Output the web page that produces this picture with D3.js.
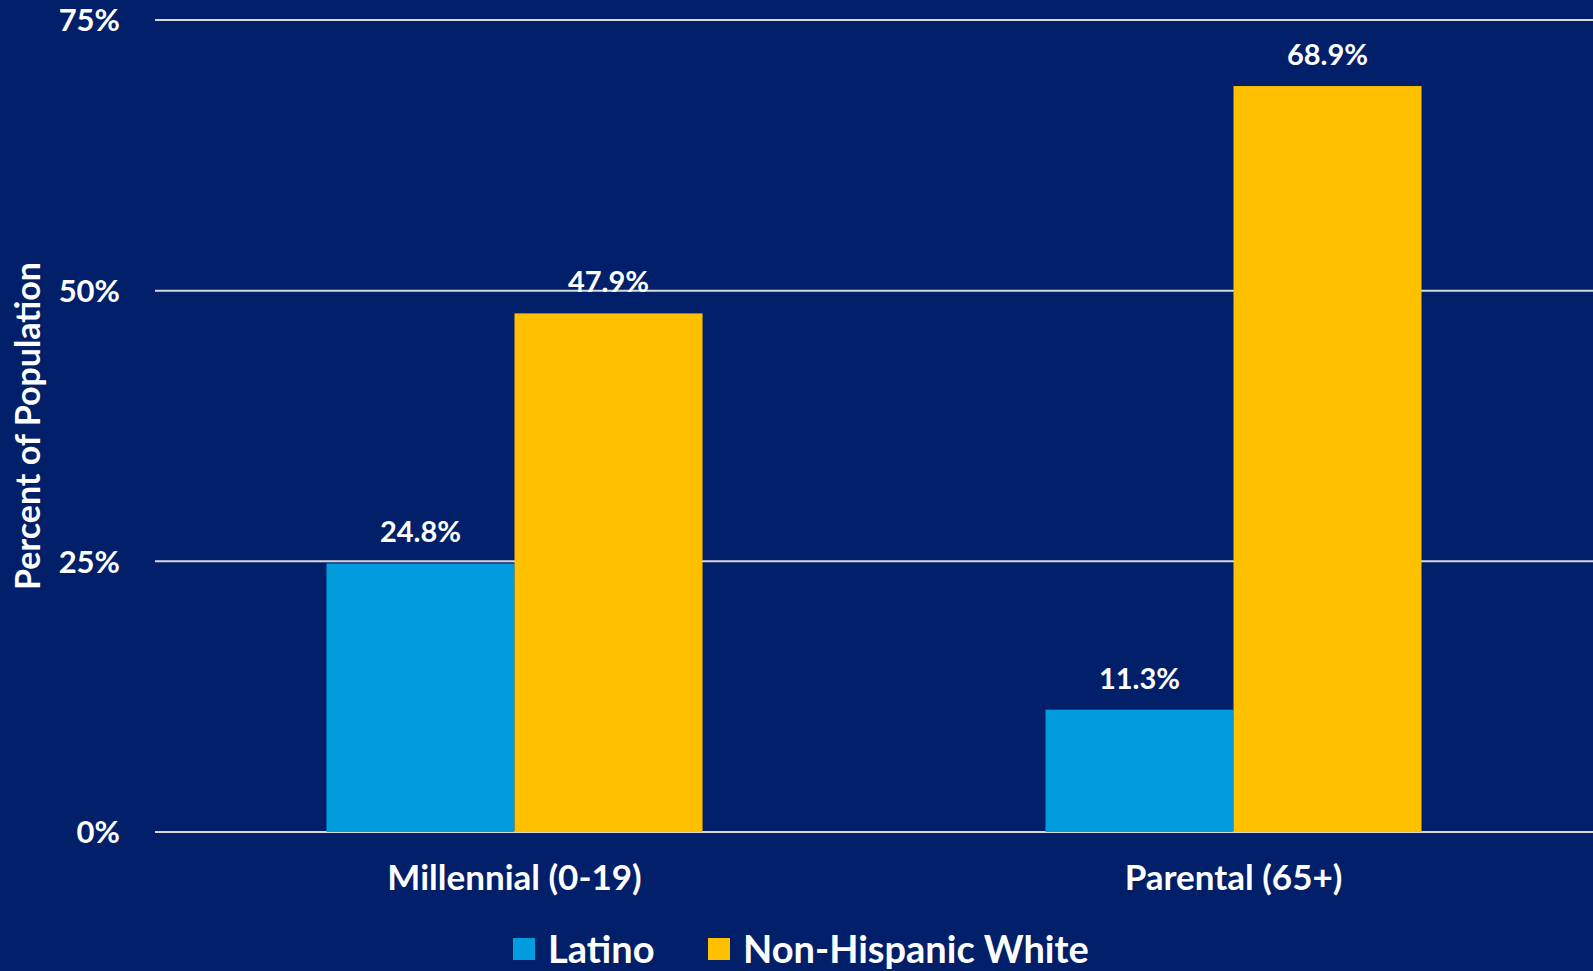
<!DOCTYPE html>
<meta charset="utf-8">
<script src="https://d3js.org/d3.v7.min.js"></script>
<style>
  body { margin: 0; background: #021f6a; }
  text { font-family: Lato, "Open Sans", sans-serif; font-weight: bold; fill: #ffffff; }
</style>
<div id="chart"></div>
<script>

    // data
    var categories = ["Millennial (0-19)", "Parental (65+)"];
    var seriesNames = ["Latino", "Non-Hispanic White"];
    var latino = [24.8, 11.3];
    var nonHispanicWhite = [47.9, 68.9];
    var yTicks = [0, 25, 50, 75];
    var colors = ["#009cde", "#ffc000"];

    var W = 1593, H = 971;
    var margin = {top: 20, right: 0, bottom: 139, left: 155};

    var svg = d3.select("#chart")
        .append("svg")
        .attr("width", W)
        .attr("height", H)
        .style("display", "block");

    svg.append("rect").attr("width", W).attr("height", H).style("fill", "#021f6a");

    var rows = categories.map(function(c, i) {
        return {cat: c, values: [latino[i], nonHispanicWhite[i]]};
    });

    // scales
    var x0 = d3.scaleBand()
        .domain(categories)
        .range([margin.left, W - margin.right])
        .paddingInner(0.477)
        .paddingOuter(0.2385);

    var x1 = d3.scaleBand()
        .domain(seriesNames)
        .range([0, x0.bandwidth()]);

    var y = d3.scaleLinear()
        .domain([0, 75])
        .range([H - margin.bottom, margin.top]);

    // gridlines
    svg.append("g")
        .selectAll("line")
        .data(yTicks)
        .enter()
        .append("line")
        .attr("x1", margin.left)
        .attr("x2", W)
        .attr("y1", function(d) { return y(d); })
        .attr("y2", function(d) { return y(d); })
        .style("stroke", "#d9d9d9")
        .style("stroke-width", 2);

    // y axis labels
    var yAxis = svg.append("g")
        .attr("transform", "translate(" + margin.left + ",0)")
        .call(d3.axisLeft(y).tickValues(yTicks).tickSize(0).tickPadding(35)
            .tickFormat(function(d) { return d + "%"; }));
    yAxis.select(".domain").remove();
    yAxis.selectAll("text").style("font-size", "31px").attr("fill", "#fff").attr("dy", "0.35em");

    // bars
    var groups = svg.selectAll(".group")
        .data(rows)
        .enter()
        .append("g")
        .attr("class", "group")
        .attr("transform", function(d) { return "translate(" + x0(d.cat) + ",0)"; });

    groups.selectAll("rect")
        .data(function(d) { return d.values.map(function(v, j) { return {key: seriesNames[j], value: v, j: j}; }); })
        .enter()
        .append("rect")
        .attr("x", function(d) { return x1(d.key); })
        .attr("width", x1.bandwidth())
        .attr("y", function(d) { return y(d.value); })
        .attr("height", function(d) { return y(0) - y(d.value); })
        .style("fill", function(d) { return colors[d.j]; });

    // value labels
    groups.selectAll(".lbl")
        .data(function(d) { return d.values.map(function(v, j) { return {key: seriesNames[j], value: v}; }); })
        .enter()
        .append("text")
        .attr("class", "lbl")
        .attr("text-anchor", "middle")
        .attr("x", function(d) { return x1(d.key) + x1.bandwidth() / 2; })
        .attr("y", function(d) { return y(d.value) - 21; })
        .style("font-size", "29px")
        .text(function(d) { return d.value.toFixed(1) + "%"; });

    // x axis category labels
    var xAxis = svg.append("g")
        .attr("transform", "translate(0," + y(0) + ")")
        .call(d3.axisBottom(x0).tickSize(0).tickPadding(33));
    xAxis.select(".domain").remove();
    xAxis.selectAll("text").style("font-size", "35px").attr("fill", "#fff");

    // y axis title
    svg.append("text")
        .attr("text-anchor", "middle")
        .attr("transform", "translate(40,426) rotate(-90)")
        .style("font-size", "34px")
        .text("Percent of Population");

    // legend
    var legendX = [513, 708];
    var legend = svg.selectAll(".legend")
        .data(seriesNames)
        .enter()
        .append("g")
        .attr("class", "legend")
        .attr("transform", function(d, i) { return "translate(" + legendX[i] + ",949)"; });

    legend.append("rect")
        .attr("x", 0)
        .attr("y", -11)
        .attr("width", 22)
        .attr("height", 22)
        .style("fill", function(d, i) { return colors[i]; });

    legend.append("text")
        .attr("x", 35)
        .attr("dy", "0.36em")
        .style("font-size", "38px")
        .text(function(d) { return d; });

</script>
